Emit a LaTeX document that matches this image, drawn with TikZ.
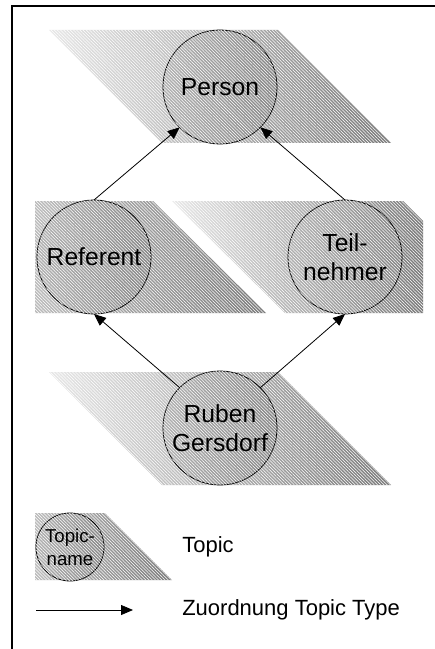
\documentclass[tikz,border=0pt]{standalone}
\usepackage{fontspec}
\setmainfont{Liberation Sans}
\usetikzlibrary{arrows.meta,patterns.meta}

\definecolor{bandlight}{RGB}{232,232,232}
\definecolor{bandmid}{RGB}{188,188,188}
\definecolor{banddark}{RGB}{122,122,122}
\definecolor{topiclight}{RGB}{178,178,178}
\definecolor{topicdark}{RGB}{134,134,134}

\tikzset{
  hatch/.style={postaction={pattern={Lines[angle=-45,distance=1.7pt,line width=0.4pt]},pattern color=white,fill opacity=0.2}},
  band/.style 2 args={left color=#1,right color=#2,hatch},
  topic/.style={circle,draw,line width=0.6pt,minimum size=85.5pt,inner sep=0pt,outer sep=0pt,align=center,
    left color=topiclight,right color=topicdark,hatch,font=\fontsize{18.5}{21.5}\selectfont},
  smalltopic/.style={topic,minimum size=51pt,font=\fontsize{14}{17}\selectfont},
  legendtext/.style={anchor=west,inner sep=0pt,font=\fontsize{16.5}{20}\selectfont},
  conn/.style={-{Triangle[length=9pt,width=7.5pt]},line width=0.6pt}
}

\begin{document}
\begin{tikzpicture}[x=0.75pt,y=0.75pt,yscale=-1,xscale=1]
\useasboundingbox (0,0) rectangle (435,649);

%Straight Lines: frame
\draw[line width=1.5pt] (12,649) -- (12,6) -- (435,6);

%Shape: Parallelogram (Person)
\path[band={bandlight}{banddark}] (49,30) -- (278,30) -- (391,143) -- (162,143) -- cycle;
%Shape: Parallelogram (Referent)
\path[band={bandmid}{banddark}] (35,201) -- (153,201) -- (266,313) -- (35,313) -- cycle;
%Shape: Parallelogram (Teilnehmer)
\path[band={bandlight}{banddark}] (172,201) -- (403,201) -- (423,221) -- (423,313) -- (285,313) -- cycle;
%Shape: Parallelogram (Ruben Gersdorf)
\path[band={bandlight}{banddark}] (49,372) -- (278,372) -- (391,485) -- (162,485) -- cycle;
%Shape: Parallelogram (legend)
\path[band={bandmid}{banddark}] (35,513) -- (105,513) -- (172,580) -- (35,580) -- cycle;

%Shape: Circles
\node[topic] (person) at (220,87) {Person};
\node[topic] (referent) at (94,257) {Referent};
\node[topic] (teilnehmer) at (345,257) {Teil-\\nehmer};
\node[topic] (ruben) at (220,428) {Ruben\\Gersdorf};
\node[smalltopic] (topicname) at (70,547) {Topic-\\name};

%Straight Lines
\draw[conn] (referent.north) -- (person.225);
\draw[conn] (teilnehmer.north) -- (person.-45);
\draw[conn] (ruben.135) -- (referent.south);
\draw[conn] (ruben.45) -- (teilnehmer.south);

% Legend
\coordinate (arrowstart) at (36,610);
\coordinate (arrowend) at (133,610);
\draw[conn] (arrowstart) -- (arrowend);

% Text Node
\node[legendtext] (topiclabel) at (182,547) {Topic};
% Text Node
\node[legendtext] (typelabel) at (182,610) {Zuordnung Topic Type};
\end{tikzpicture}
\end{document}
